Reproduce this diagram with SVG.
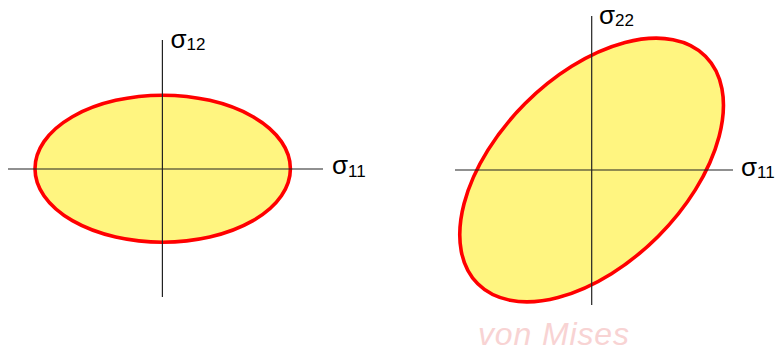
<svg xmlns="http://www.w3.org/2000/svg" width="777" height="351" viewBox="0 0 777 351">
<style>
.ell{fill:#fff580;stroke:#ff0000;stroke-width:3.6}
.ax{stroke:#222;stroke-width:1.2;fill:none}
.sg{font-family:"Liberation Sans",Arial,sans-serif;font-size:26px;fill:#000}
.sub{font-size:17px}
.wm{font-family:"Liberation Sans",Arial,sans-serif;font-style:italic;font-size:32px;fill:#f8d3d3}
</style>
<g id="left-ellipse">
<ellipse class="ell" cx="162.7" cy="168.7" rx="127.7" ry="73.5"/>
</g>
<g id="right-ellipse">
<ellipse class="ell" cx="591.6" cy="170" rx="161" ry="94" transform="rotate(-45 591.6 170)"/>
</g>
<g id="axes">
<line class="ax" x1="8" y1="169" x2="323" y2="169"/>
<line class="ax" x1="162.4" y1="40" x2="162.4" y2="297"/>
<line class="ax" x1="455" y1="170" x2="733" y2="170"/>
<line class="ax" x1="591.7" y1="16" x2="591.7" y2="305"/>
</g>
<g id="labels">
<text class="sg" x="332" y="174">σ<tspan class="sub" dy="3">11</tspan></text>
<text class="sg" x="170.5" y="48">σ<tspan class="sub" dy="2">12</tspan></text>
<text class="sg" x="599" y="24">σ<tspan class="sub" dy="2">22</tspan></text>
<text class="sg" x="741" y="176">σ<tspan class="sub" dy="2">11</tspan></text>
<text class="wm" x="478" y="345" textLength="151">von Mises</text>
</g>
</svg>
